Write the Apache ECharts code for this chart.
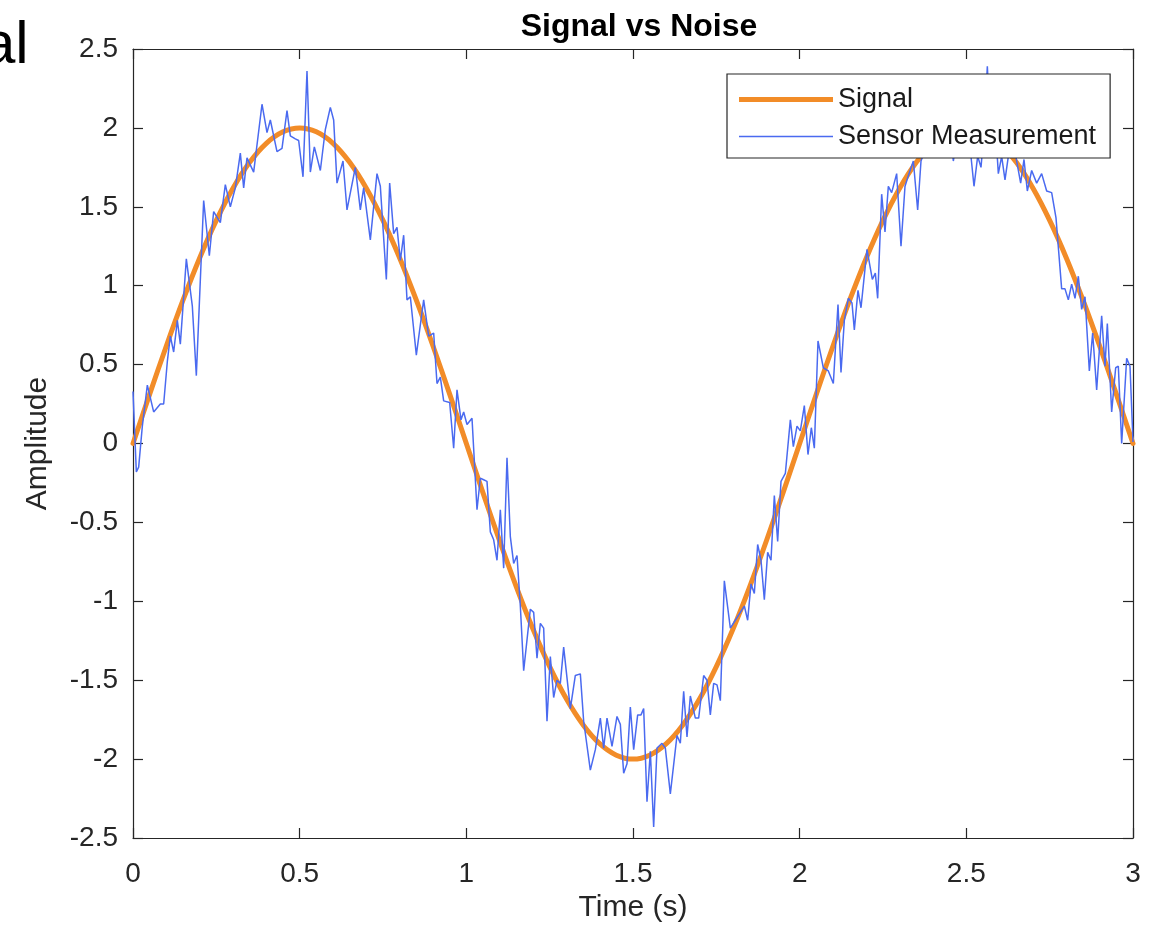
<!DOCTYPE html>
<html>
<head>
<meta charset="utf-8">
<script src="https://cdn.jsdelivr.net/npm/echarts@6/dist/echarts.min.js"></script>
<style>
html,body{margin:0;padding:0;background:#fff;}
#chart{width:1160px;height:934px;}
</style>
</head>
<body>
<div id="chart"></div>
<script>
const titleText = 'Signal vs Noise';
const xAxisName = 'Time (s)';
const yAxisName = 'Amplitude';
const seriesNames = ['Signal', 'Sensor Measurement'];
const cornerText = 'al';

const signalTime = [0,0.05,0.1,0.15,0.2,0.25,0.3,0.35,0.4,0.45,0.5,0.55,0.6,0.65,0.7,0.75,0.8,0.85,0.9,0.95,
  1,1.05,1.1,1.15,1.2,1.25,1.3,1.35,1.4,1.45,1.5,1.55,1.6,1.65,1.7,1.75,1.8,1.85,1.9,1.95,
  2,2.05,2.1,2.15,2.2,2.25,2.3,2.35,2.4,2.45,2.5,2.55,2.6,2.65,2.7,2.75,2.8,2.85,2.9,2.95,3];
const signalValue = [0,0.313,0.618,0.908,1.176,1.414,1.618,1.782,1.902,1.975,2.000,1.975,1.902,1.782,1.618,1.414,1.176,0.908,0.618,0.313,
  0,-0.313,-0.618,-0.908,-1.176,-1.414,-1.618,-1.782,-1.902,-1.975,-2.000,-1.975,-1.902,-1.782,-1.618,-1.414,-1.176,-0.908,-0.618,-0.313,
  0,0.313,0.618,0.908,1.176,1.414,1.618,1.782,1.902,1.975,2.000,1.975,1.902,1.782,1.618,1.414,1.176,0.908,0.618,0.313,0];

const noiseTime = [0.000,0.010,0.017,0.028,0.043,0.062,0.082,0.092,0.103,0.112,0.122,0.133,0.142,0.160,0.178,0.190,0.212,0.229,0.242,0.262,
  0.277,0.292,0.307,0.322,0.332,0.342,0.362,0.387,0.402,0.412,0.432,0.447,0.462,0.472,0.487,0.497,0.510,0.522,0.532,0.544,
  0.562,0.577,0.592,0.602,0.612,0.630,0.642,0.667,0.682,0.692,0.712,0.732,0.742,0.760,0.770,0.782,0.792,0.802,0.812,0.822,
  0.832,0.850,0.872,0.887,0.902,0.912,0.922,0.932,0.950,0.962,0.972,0.984,0.992,1.002,1.017,1.032,1.042,1.052,1.062,1.072,
  1.082,1.092,1.102,1.112,1.122,1.132,1.142,1.152,1.162,1.172,1.192,1.202,1.212,1.222,1.232,1.242,1.252,1.262,1.272,1.282,
  1.292,1.312,1.327,1.342,1.352,1.372,1.387,1.402,1.412,1.422,1.437,1.452,1.462,1.472,1.482,1.492,1.502,1.514,1.524,1.532,
  1.542,1.552,1.562,1.572,1.587,1.597,1.612,1.632,1.642,1.652,1.662,1.672,1.687,1.697,1.712,1.722,1.732,1.742,1.752,1.762,
  1.774,1.792,1.807,1.822,1.834,1.844,1.854,1.864,1.874,1.884,1.894,1.904,1.914,1.924,1.934,1.944,1.957,1.972,1.981,1.992,
  2.002,2.014,2.025,2.035,2.044,2.055,2.071,2.086,2.101,2.115,2.124,2.134,2.146,2.157,2.164,2.175,2.184,2.202,2.218,2.227,
  2.234,2.246,2.256,2.266,2.276,2.291,2.304,2.316,2.328,2.341,2.354,2.364,2.376,2.386,2.396,2.406,2.416,2.426,2.436,2.446,
  2.461,2.476,2.491,2.512,2.523,2.534,2.544,2.554,2.563,2.573,2.586,2.596,2.606,2.616,2.626,2.639,2.651,2.663,2.673,2.683,
  2.696,2.711,2.726,2.741,2.756,2.769,2.786,2.796,2.806,2.816,2.826,2.836,2.846,2.856,2.869,2.879,2.891,2.906,2.916,2.923,
  2.936,2.948,2.956,2.966,2.981,2.991,3.000];
const noiseValue = [0.33,-0.18,-0.15,0.11,0.37,0.20,0.25,0.25,0.52,0.68,0.58,0.78,0.63,1.17,0.87,0.43,1.54,1.19,1.47,1.40,
  1.64,1.50,1.62,1.84,1.62,1.81,1.72,2.15,1.97,2.05,1.85,1.87,2.11,1.95,1.93,1.92,1.69,2.36,1.72,1.88,
  1.73,1.99,2.13,2.05,1.65,1.79,1.48,1.75,1.48,1.62,1.29,1.71,1.63,1.04,1.65,1.33,1.37,1.16,1.32,0.91,
  0.93,0.56,0.91,0.68,0.70,0.38,0.42,0.27,0.26,-0.03,0.34,0.15,0.20,0.12,0.16,-0.42,-0.22,-0.23,-0.24,-0.56,
  -0.61,-0.74,-0.42,-0.79,-0.09,-0.59,-0.76,-0.71,-1.03,-1.44,-1.05,-1.07,-1.36,-1.14,-1.17,-1.76,-1.35,-1.61,-1.50,-1.52,
  -1.29,-1.68,-1.47,-1.46,-1.76,-2.07,-1.94,-1.74,-1.93,-1.74,-1.92,-1.73,-1.78,-2.09,-2.03,-1.67,-1.94,-1.72,-1.72,-1.68,
  -2.27,-1.95,-2.43,-1.93,-1.90,-1.93,-2.22,-1.85,-1.90,-1.57,-1.86,-1.60,-1.74,-1.74,-1.47,-1.50,-1.72,-1.52,-1.53,-1.63,
  -0.87,-1.17,-1.12,-1.07,-1.03,-1.12,-0.89,-0.95,-0.64,-0.74,-0.99,-0.69,-0.74,-0.33,-0.62,-0.24,-0.19,0.15,-0.02,0.11,
  0.08,0.24,-0.07,0.10,-0.03,0.65,0.48,0.46,0.38,0.88,0.45,0.78,0.92,0.89,0.72,0.97,0.86,1.23,1.04,1.08,
  0.92,1.58,1.34,1.63,1.59,1.71,1.25,1.63,1.71,1.79,1.48,1.79,1.86,2.05,1.92,2.10,1.97,2.04,1.90,2.08,
  1.79,2.00,1.95,1.86,1.63,1.82,1.75,2.00,2.39,1.95,2.05,1.71,1.82,1.67,1.82,1.95,1.79,1.65,1.80,1.60,
  1.73,1.65,1.71,1.60,1.59,1.43,0.98,0.98,0.91,1.01,0.92,1.06,0.85,0.93,0.46,0.70,0.34,0.81,0.49,0.76,
  0.20,0.48,0.49,0.00,0.54,0.49,0.01];

const FONT = '"Liberation Sans", Arial, Helvetica, sans-serif';
const AXIS_COLOR = '#262626';
const ORANGE = '#F28C28';
const BLUE = '#4A6AF0';

const chart = echarts.init(document.getElementById('chart'), null, {renderer: 'canvas'});

const axisCommon = {
  type: 'value',
  axisLine: {show: true, onZero: false, lineStyle: {color: AXIS_COLOR, width: 1.2}},
  axisTick: {show: true, inside: true, length: 10, lineStyle: {color: AXIS_COLOR, width: 1.2}},
  splitLine: {show: false},
  minorTick: {show: false}
};

chart.setOption({
  animation: false,
  backgroundColor: '#ffffff',
  textStyle: {fontFamily: FONT},
  title: {
    text: titleText,
    left: 634,
    top: 6,
    textAlign: 'center',
    textStyle: {fontFamily: FONT, fontSize: 32, fontWeight: 'bold', color: '#000'}
  },
  legend: {
    orient: 'vertical',
    left: 727,
    top: 74,
    padding: [12, 14, 8, 12],
    itemGap: 10,
    itemWidth: 94,
    itemHeight: 14,
    symbolKeepAspect: true,
    backgroundColor: '#ffffff',
    borderColor: AXIS_COLOR,
    borderWidth: 1.2,
    borderRadius: 0,
    data: [
      {name: seriesNames[0], icon: 'path://M0 0H94V5H0Z'},
      {name: seriesNames[1], icon: 'path://M0 0H94V1.5H0Z'}
    ],
    textStyle: {fontFamily: FONT, fontSize: 27, color: '#1a1a1a'}
  },
  grid: {left: 133, right: 27, top: 49, bottom: 96, containLabel: false},
  xAxis: [
    Object.assign({}, axisCommon, {
      position: 'bottom', min: 0, max: 3, interval: 0.5,
      name: xAxisName, nameLocation: 'middle', nameGap: 55,
      nameTextStyle: {fontFamily: FONT, fontSize: 30, color: AXIS_COLOR},
      axisLabel: {show: true, margin: 22, fontFamily: FONT, fontSize: 28, color: AXIS_COLOR}
    }),
    Object.assign({}, axisCommon, {
      position: 'top', min: 0, max: 3, interval: 0.5,
      axisLabel: {show: false}
    })
  ],
  yAxis: [
    Object.assign({}, axisCommon, {
      position: 'left', min: -2.5, max: 2.5, interval: 0.5,
      name: yAxisName, nameLocation: 'middle', nameGap: 80, nameRotate: 90,
      nameTextStyle: {fontFamily: FONT, fontSize: 30, color: AXIS_COLOR},
      axisLabel: {show: true, margin: 15, fontFamily: FONT, fontSize: 28, color: AXIS_COLOR}
    }),
    Object.assign({}, axisCommon, {
      position: 'right', min: -2.5, max: 2.5, interval: 0.5,
      axisLabel: {show: false}
    })
  ],
  graphic: [{
    type: 'text',
    left: -18,
    top: 16,
    style: {text: cornerText, fontFamily: FONT, fontSize: 60, fill: '#000'}
  }],
  series: [
    {
      name: seriesNames[0],
      type: 'line',
      xAxisIndex: 0, yAxisIndex: 0,
      data: signalTime.map((t, i) => [t, signalValue[i]]),
      symbol: 'none',
      smooth: 0.3,
      lineStyle: {color: ORANGE, width: 5, cap: 'round', join: 'round'},
      itemStyle: {color: ORANGE},
      z: 2
    },
    {
      name: seriesNames[1],
      type: 'line',
      xAxisIndex: 0, yAxisIndex: 0,
      data: noiseTime.map((t, i) => [t, noiseValue[i]]),
      symbol: 'none',
      lineStyle: {color: BLUE, width: 1.5},
      itemStyle: {color: BLUE},
      z: 3
    }
  ]
});
</script>
</body>
</html>
